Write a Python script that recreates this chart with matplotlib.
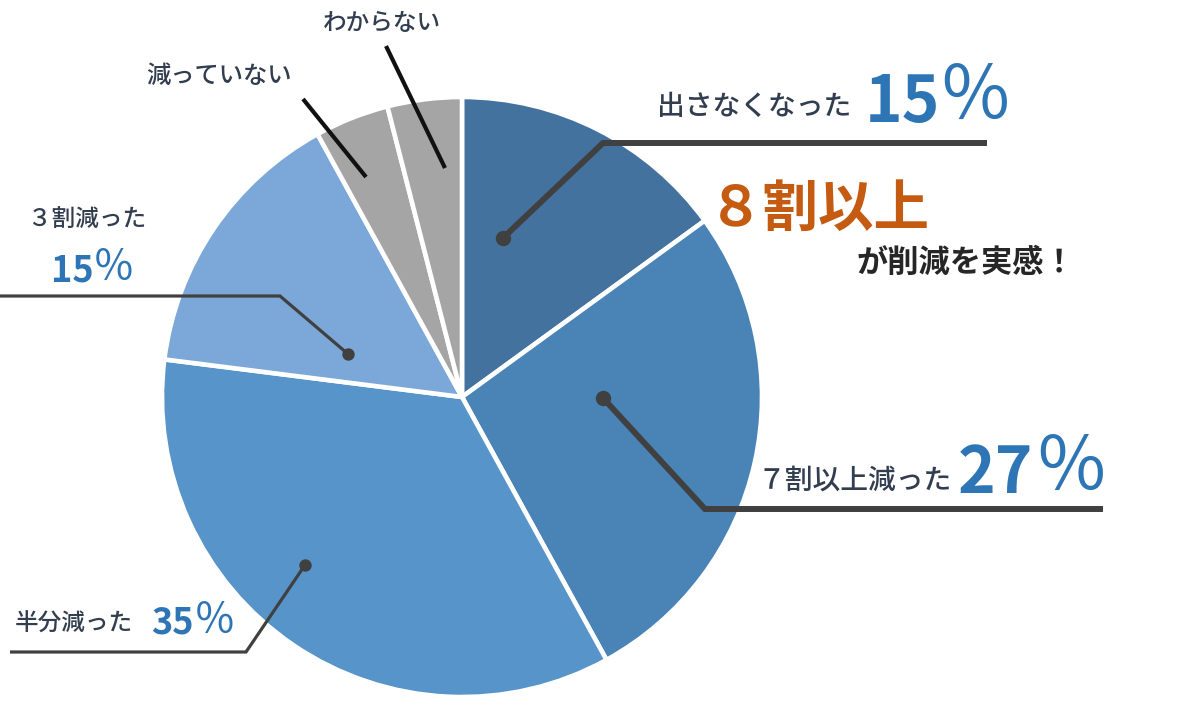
import matplotlib
matplotlib.use("Agg")
import matplotlib.pyplot as plt

plt.rcParams['font.family'] = ['Noto Sans CJK JP', 'DejaVu Sans']

# ---- data ----
categories = ["出さなくなった", "７割以上減った", "半分減った", "３割減った", "減っていない", "わからない"]
values = [15, 27, 35, 15, 4, 4]
pct_numbers = ["15", "27", "35", "15", "", ""]
pct_sign = "％"
colors = ["#43729E", "#4A84B6", "#5794CA", "#7BA8D8", "#A5A5A5", "#A5A5A5"]
headline = "８割以上"
subline = "が削減を実感！"

W, H = 1178, 722
fig = plt.figure(figsize=(W / 100, H / 100), dpi=100)
ax = fig.add_axes([0, 0, 1, 1])

def Y(y):
    return H - y

cx, cy, R = 462, 397, 300
ax.pie(values, colors=colors, startangle=90, counterclock=False,
       center=(cx, Y(cy)), radius=R, frame=True,
       wedgeprops=dict(edgecolor='white', linewidth=3.3))
ax.set_xlim(0, W)
ax.set_ylim(0, H)
ax.set_aspect('equal')
ax.axis('off')

TXT = "#323E4F"
BLUE = "#2E75B6"
LINE = "#404040"

def leader(pts, lw, color=LINE, dot=None, dot_r=7):
    xs = [p[0] for p in pts]
    ys = [Y(p[1]) for p in pts]
    ax.plot(xs, ys, color=color, lw=lw, solid_capstyle='butt', solid_joinstyle='miter', zorder=5)
    if dot is not None:
        ax.plot([dot[0]], [Y(dot[1])], 'o', color=color, ms=dot_r * 2 * 0.72, zorder=6)

def pct(num, x, base, size, sx, sbase, ssize):
    ax.text(x, Y(base), num, fontsize=size, color=BLUE, weight='bold', ha='left', va='baseline')
    ax.text(sx, Y(sbase), pct_sign, fontsize=ssize, color=BLUE, weight='normal', ha='left', va='baseline')

# 出さなくなった
leader([(503, 238), (603, 143), (987, 143)], lw=4.3, dot=(503, 238))
ax.text(657, Y(115), categories[0], fontsize=20, color=TXT, weight='medium', ha='left', va='baseline')
pct(pct_numbers[0], 865, 122, 46, 938, 119, 53)

# headline
ax.text(708, Y(226), headline, fontsize=40, color="#C55A11", weight='bold', ha='left', va='baseline')
ax.text(856, Y(272), subline, fontsize=22.5, color="#262626", weight='bold', ha='left', va='baseline')

# ７割以上減った
leader([(603, 398), (705, 509), (1103, 509)], lw=4.3, dot=(603, 398))
ax.text(758, Y(489), categories[1], fontsize=20, color=TXT, weight='medium', ha='left', va='baseline')
pct(pct_numbers[1], 958, 493, 46, 1034, 490, 53)

# 半分減った
leader([(305, 565), (246, 652), (10, 652)], lw=2.3, dot=(305, 565), dot_r=5.5)
ax.text(15, Y(631), categories[2], fontsize=17, color=TXT, weight='medium', ha='left', va='baseline')
pct(pct_numbers[2], 151, 634, 26, 194, 633, 30)

# ３割減った
leader([(348, 354), (280, 296), (0, 296)], lw=2.3, dot=(348, 354), dot_r=5.5)
ax.text(28, Y(226), categories[3], fontsize=17, color=TXT, weight='medium', ha='left', va='baseline')
pct(pct_numbers[3], 51, 281, 26, 93, 280, 30)

# 減っていない
leader([(303, 99), (366, 177)], lw=3.0, color="#111111")
ax.text(146, Y(83), categories[4], fontsize=17.5, color=TXT, weight='medium', ha='left', va='baseline')

# わからない
leader([(386, 46), (445, 168)], lw=3.0, color="#111111")
ax.text(323, Y(30), categories[5], fontsize=17, color=TXT, weight='medium', ha='left', va='baseline')

fig.savefig("out.png", dpi=100, facecolor='white')
